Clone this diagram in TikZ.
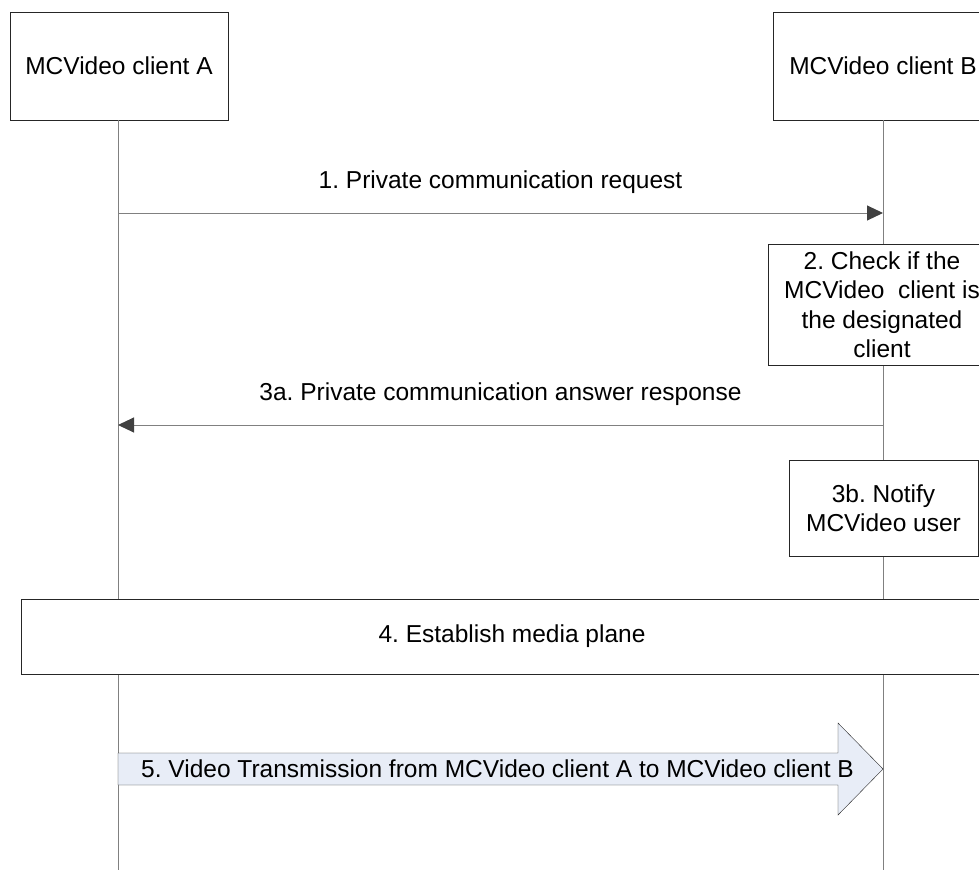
\documentclass[tikz,border=0pt]{standalone}
\usepackage{fontspec}
\setmainfont{Liberation Sans}
\usetikzlibrary{arrows.meta}
\definecolor{lifegray}{HTML}{808080}
\definecolor{headgray}{HTML}{404040}
\definecolor{videofill}{HTML}{E8EDF7}
\frenchspacing
\begin{document}
\begin{tikzpicture}[x=1pt,y=-1pt,
    box/.style={draw=black!85,fill=white,align=center,inner sep=0pt,
      font=\fontsize{24.5}{29.5}\selectfont},
    lifeline/.style={draw=lifegray,line width=1pt},
    msg/.style={draw=lifegray,line width=1pt,
      -{Triangle[length=16pt,width=15pt,fill=headgray,color=headgray]}},
    lbl/.style={font=\fontsize{24.5}{29.5}\selectfont}]

      \useasboundingbox (0,0) rectangle (979,870);
      \clip (0,0) rectangle (979,870);

      \path (119,66) node [box,minimum width=218pt,minimum height=108pt](cli_a){MCVideo client A};
      \path (883,66) node [box,minimum width=220pt,minimum height=108pt](cli_b){MCVideo client B};
      \coordinate (end_a) at (118,870);
      \coordinate (end_b) at (883,870);
      % lifelines
      \draw[lifeline] (cli_a.south -| end_a) -- (end_a);
      \draw[lifeline] (cli_b.south -| end_b) -- (end_b);

      \coordinate (m1_a) at (118,213);
      \coordinate (m1_b) at (883,213);
      \draw[msg] (m1_a) -- node[lbl,above=16pt]{1. Private communication request} (m1_b);

      \path (882,304.5) node [box,minimum width=228pt,minimum height=121pt](chk){2. Check if the\\MCVideo\ \ client is\\the designated\\client};

      \coordinate (m3_b) at (883,425);
      \coordinate (m3_a) at (118,425);
      \draw[msg] (m3_b) -- node[lbl,above=16pt]{3a. Private communication answer response} (m3_a);

      \path (883.5,508) node [box,minimum width=189pt,minimum height=96pt](ntf){3b. Notify\\MCVideo user};

      \path (512,636.5) node [box,minimum width=982pt,minimum height=75pt](media){4. Establish media plane};

      % video transmission arrow
      \coordinate (m5_a) at (118,769);
      \coordinate (m5_b) at (883,769);
      \draw[draw=black!85,fill=videofill] (m5_a |- 0,753) -- (838,753) -- (838,723) -- (m5_b)
        -- (838,815) -- (838,785) -- (m5_a |- 0,785) -- cycle;
      \path (m5_a) ++(23,0) node [lbl,anchor=west,inner sep=0pt](video){5. Video Transmission from MCVideo client A to MCVideo client B};

    \end{tikzpicture}
\end{document}
